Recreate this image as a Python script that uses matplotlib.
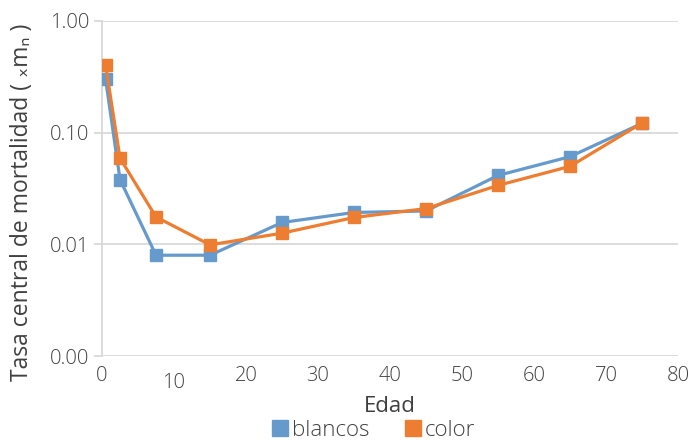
import matplotlib
matplotlib.use("Agg")
import matplotlib.pyplot as plt
import matplotlib.transforms as mtransforms
from matplotlib.ticker import FixedLocator, NullLocator

# edades (punto medio del grupo) y tasas centrales de mortalidad
edad = [0.5, 2.5, 7.5, 15, 25, 35, 45, 55, 65, 75]
blancos = [0.30, 0.038, 0.0080, 0.0080, 0.0157, 0.0193, 0.0199, 0.0414, 0.0609, 0.121]
color = [0.40, 0.059, 0.0176, 0.0099, 0.0126, 0.0174, 0.0209, 0.0337, 0.0499, 0.122]

y_ticks = [0.001, 0.01, 0.1, 1.0]
y_labels = ['0.00', '0.01', '0.10', '1.00']
x_ticks = [0, 10, 20, 30, 40, 50, 60, 70, 80]

BLUE = '#6699CC'
ORANGE = '#ED7D31'
GRID = '#D9D9D9'
TXT = '#404040'

plt.rcParams['font.family'] = ['Open Sans', 'DejaVu Sans']
plt.rcParams['font.weight'] = 'light'

fig = plt.figure(figsize=(6.94, 4.43), dpi=100)
ax = fig.add_axes([0.147, 0.196, 0.830, 0.757])

ax.plot(edad, blancos, color=BLUE, lw=2.3, marker='s', ms=9,
        label='blancos', zorder=3)
ax.plot(edad, color, color=ORANGE, lw=2.3, marker='s', ms=9,
        label='color', zorder=4)

ax.set_yscale('log')
ax.set_ylim(0.001, 1.0)
ax.set_xlim(0, 80)
ax.yaxis.set_major_locator(FixedLocator(y_ticks))
ax.yaxis.set_minor_locator(NullLocator())
ax.set_yticklabels(y_labels)
ax.set_xticks(x_ticks)

ax.grid(axis='y', color=GRID, lw=1.3)
ax.set_axisbelow(True)
for s in ['top', 'right', 'bottom']:
    ax.spines[s].set_visible(False)
ax.spines['left'].set_color(GRID)
ax.spines['left'].set_linewidth(1.3)

ax.tick_params(axis='y', length=6, width=1.3, color=GRID, labelsize=14.5,
               labelcolor=TXT, pad=3)
ax.tick_params(axis='x', length=0, labelsize=14.5, labelcolor=TXT, pad=7)

# la etiqueta "10" aparece algo más abajo en el original
fig.canvas.draw()
for lbl in ax.get_xticklabels():
    if lbl.get_text() == '10':
        off = mtransforms.ScaledTranslation(0, -7 / 100, fig.dpi_scale_trans)
        lbl.set_transform(lbl.get_transform() + off)

ax.set_xlabel('Edad', fontsize=16, color=TXT, labelpad=2)
ax.set_ylabel('Tasa central de mortalidad ( ₓmₙ )', fontsize=16.5, color=TXT,
              va='center')
ax.yaxis.set_label_coords(-0.139, 0.46)

leg = fig.legend(loc='center', bbox_to_anchor=(0.538, 0.029), ncol=2,
                 frameon=False, fontsize=16, handlelength=0.75,
                 handletextpad=0.15, columnspacing=1.6, borderaxespad=0)
for h, c in zip(leg.legend_handles, [BLUE, ORANGE]):
    h.set_linestyle('none')
    h.set_marker('s')
    h.set_markersize(11)
    h.set_color(c)
for t in leg.get_texts():
    t.set_color(TXT)

fig.savefig('out.png', dpi=100)
